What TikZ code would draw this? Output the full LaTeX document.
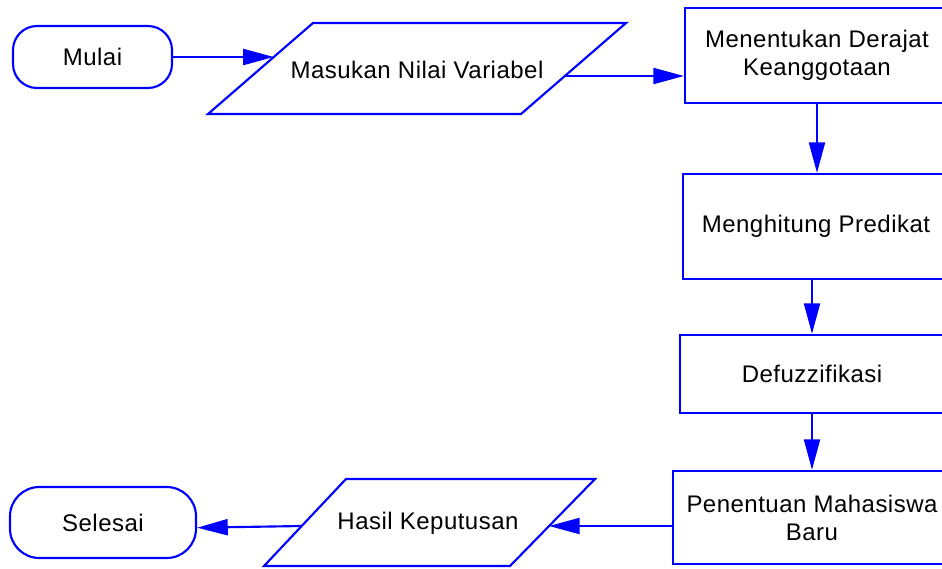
\documentclass[tikz,border=0pt]{standalone}
\usepackage{fontspec}
\setmainfont{Liberation Sans}[LetterSpace=2]
\usetikzlibrary{arrows.meta,calc}
\definecolor{fcblue}{RGB}{0,0,255}
\begin{document}
\begin{tikzpicture}[x=0.75pt,y=-0.75pt,
  every node/.style={font=\fontsize{18}{21}\selectfont, text=black},
  line/.style={draw=fcblue, line width=1.6pt},
  term/.style={line, inner sep=0pt},
  proc/.style={line, inner sep=0pt, align=center},
  arr/.style={draw=fcblue, line width=1.6pt, -{Triangle[length=23pt,width=12pt]}},
]
\clip (0,0) rectangle (942,568);
% terminals
\node[term, rounded corners=18pt, minimum width=119.25pt, minimum height=46.5pt] (mulai) at (92.5,57) {Mulai};
\node[term, rounded corners=22pt, minimum width=139.5pt, minimum height=53.25pt] (selesai) at (103,522.5) {Selesai};
% input / output parallelograms
\draw[line] (208,114) -- (313,23) -- (626,23) -- (521,114) -- cycle;
\node (masukan) at (417,70) {Masukan Nilai Variabel};
\draw[line] (264,566) -- (346,479) -- (595,479) -- (510,566) -- cycle;
\node (hasil) at (428,523) {Hasil Keputusan};
% processes
\node[proc, minimum width=198pt, minimum height=71.25pt] (mentu) at (817,55.5) {Menentukan Derajat\\Keanggotaan};
\node[proc, minimum width=199.5pt, minimum height=78.75pt] (menghit) at (816,226.5) {Menghitung Predikat};
\node[proc, minimum width=198pt, minimum height=58.5pt] (defuz) at (812,374) {Defuzzifikasi};
\node[proc, minimum width=208.5pt, minimum height=69.75pt] (pen) at (812,517.5) {Penentuan Mahasiswa\\Baru};
% edge points on parallelograms
\coordinate (masIn) at (273.8,57);
\coordinate (masOut) at (565,76);
\coordinate (hasIn) at (549,526);
\coordinate (hasOut) at (301.7,526);
% connectors
\draw[arr] (mulai.east) -- (masIn);
\draw[arr] (masOut) -- (mentu.west |- masOut);
\draw[arr] (mentu.south) -- (mentu.south |- menghit.north);
\draw[arr] (defuz.north |- menghit.south) -- (defuz.north);
\draw[arr] (defuz.south) -- (defuz.south |- pen.north);
\draw[arr] (pen.west |- hasIn) -- (hasIn);
\draw[arr] (hasOut) -- ([yshift=-3.9pt]selesai.east);
\end{tikzpicture}
\end{document}
